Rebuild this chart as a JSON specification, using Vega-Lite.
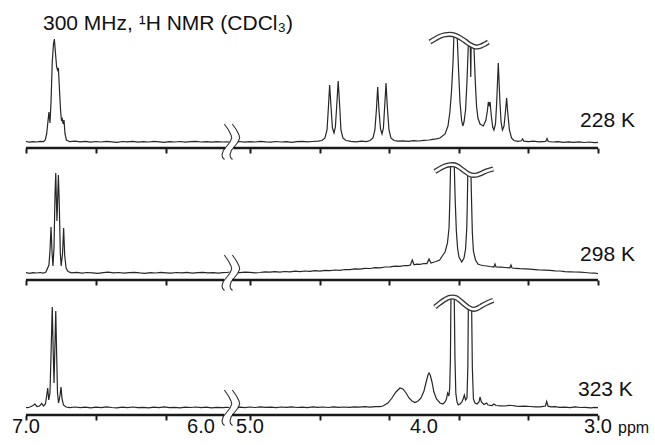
{
"$schema": "https://vega.github.io/schema/vega-lite/v6.json",
"padding": {"left": 12, "top": 5, "right": 0, "bottom": 0},
"background": "white",
"spacing": 10,
"bounds": "flush",
"config": {"view": {"stroke": null}, "axis": {"grid": false, "domain": false, "labels": false, "tickSize": 5, "tickWidth": 2, "tickColor": "#1a1a1a"}},
"datasets": {
"spec": [
{"p":"a","s":"L","x":7,"y":0.5},{"p":"a","s":"L","x":6.98,"y":-0.2},{"p":"a","s":"L","x":6.96,"y":0.4},{"p":"a","s":"L","x":6.94,"y":0},{"p":"a","s":"L","x":6.92,"y":0.7},{"p":"a","s":"L","x":6.9,"y":0.3},{"p":"a","s":"L","x":6.89,"y":2},{"p":"a","s":"L","x":6.882,"y":8},{"p":"a","s":"L","x":6.869,"y":30},{"p":"a","s":"L","x":6.863,"y":19},{"p":"a","s":"L","x":6.857,"y":40},{"p":"a","s":"L","x":6.85,"y":80},{"p":"a","s":"L","x":6.843,"y":98},{"p":"a","s":"L","x":6.838,"y":103},{"p":"a","s":"L","x":6.833,"y":92},{"p":"a","s":"L","x":6.825,"y":75},{"p":"a","s":"L","x":6.82,"y":72},{"p":"a","s":"L","x":6.815,"y":74},{"p":"a","s":"L","x":6.808,"y":50},{"p":"a","s":"L","x":6.802,"y":30},{"p":"a","s":"L","x":6.797,"y":21},{"p":"a","s":"L","x":6.793,"y":23},{"p":"a","s":"L","x":6.788,"y":18},{"p":"a","s":"L","x":6.783,"y":22},{"p":"a","s":"L","x":6.777,"y":8},{"p":"a","s":"L","x":6.769,"y":2},{"p":"a","s":"L","x":6.75,"y":0.3},{"p":"a","s":"L","x":6.72,"y":0.8},{"p":"a","s":"L","x":6.69,"y":0.1},{"p":"a","s":"L","x":6.66,"y":0.6},{"p":"a","s":"L","x":6.63,"y":-0.2},{"p":"a","s":"L","x":6.6,"y":0.5},{"p":"a","s":"L","x":6.57,"y":0},{"p":"a","s":"L","x":6.54,"y":0.7},{"p":"a","s":"L","x":6.51,"y":0.2},{"p":"a","s":"L","x":6.48,"y":-0.3},{"p":"a","s":"L","x":6.45,"y":0.5},{"p":"a","s":"L","x":6.42,"y":0.1},{"p":"a","s":"L","x":6.39,"y":0.6},{"p":"a","s":"L","x":6.36,"y":-0.1},{"p":"a","s":"L","x":6.33,"y":0.4},{"p":"a","s":"L","x":6.3,"y":0},{"p":"a","s":"L","x":6.27,"y":0.6},{"p":"a","s":"L","x":6.24,"y":0.2},{"p":"a","s":"L","x":6.21,"y":-0.3},{"p":"a","s":"L","x":6.18,"y":0.4},{"p":"a","s":"L","x":6.15,"y":0},{"p":"a","s":"L","x":6.12,"y":0.5},{"p":"a","s":"L","x":6.09,"y":-0.2},{"p":"a","s":"L","x":6.06,"y":0.3},{"p":"a","s":"L","x":6.03,"y":0.6},{"p":"a","s":"L","x":6,"y":0},{"p":"a","s":"L","x":5.97,"y":0.4},{"p":"a","s":"L","x":5.94,"y":-0.2},{"p":"a","s":"L","x":5.91,"y":0.3},{"p":"a","s":"L","x":5.875,"y":0},{"p":"a","s":"L","x":5.7,"y":0.2},{"p":"a","s":"L","x":5.55,"y":0},
{"p":"a","s":"R","x":5.15,"y":0.2},{"p":"a","s":"R","x":5.06,"y":0.5},{"p":"a","s":"R","x":5.03,"y":-0.1},{"p":"a","s":"R","x":5,"y":0.4},{"p":"a","s":"R","x":4.97,"y":0},{"p":"a","s":"R","x":4.94,"y":0.6},{"p":"a","s":"R","x":4.91,"y":0.1},{"p":"a","s":"R","x":4.88,"y":-0.2},{"p":"a","s":"R","x":4.85,"y":0.5},{"p":"a","s":"R","x":4.82,"y":0},{"p":"a","s":"R","x":4.79,"y":0.4},{"p":"a","s":"R","x":4.76,"y":-0.3},{"p":"a","s":"R","x":4.73,"y":0.3},{"p":"a","s":"R","x":4.7,"y":0.7},{"p":"a","s":"R","x":4.67,"y":0.1},{"p":"a","s":"R","x":4.64,"y":0.5},{"p":"a","s":"R","x":4.61,"y":0.9},{"p":"a","s":"R","x":4.586,"y":1.5},{"p":"a","s":"R","x":4.569,"y":4},{"p":"a","s":"R","x":4.557,"y":12},{"p":"a","s":"R","x":4.549,"y":35},{"p":"a","s":"R","x":4.542,"y":57},{"p":"a","s":"R","x":4.534,"y":35},{"p":"a","s":"R","x":4.526,"y":14},{"p":"a","s":"R","x":4.517,"y":9},{"p":"a","s":"R","x":4.509,"y":15},{"p":"a","s":"R","x":4.5,"y":40},{"p":"a","s":"R","x":4.493,"y":61},{"p":"a","s":"R","x":4.485,"y":38},{"p":"a","s":"R","x":4.477,"y":12},{"p":"a","s":"R","x":4.466,"y":4},{"p":"a","s":"R","x":4.448,"y":1.5},{"p":"a","s":"R","x":4.42,"y":0.6},{"p":"a","s":"R","x":4.39,"y":0.2},{"p":"a","s":"R","x":4.36,"y":0.9},{"p":"a","s":"R","x":4.33,"y":0.4},{"p":"a","s":"R","x":4.31,"y":1.5},{"p":"a","s":"R","x":4.293,"y":4},{"p":"a","s":"R","x":4.282,"y":12},{"p":"a","s":"R","x":4.273,"y":33},{"p":"a","s":"R","x":4.266,"y":55},{"p":"a","s":"R","x":4.259,"y":33},{"p":"a","s":"R","x":4.25,"y":13},{"p":"a","s":"R","x":4.241,"y":8},{"p":"a","s":"R","x":4.233,"y":14},{"p":"a","s":"R","x":4.225,"y":38},{"p":"a","s":"R","x":4.218,"y":59},{"p":"a","s":"R","x":4.211,"y":36},{"p":"a","s":"R","x":4.201,"y":12},{"p":"a","s":"R","x":4.19,"y":4},{"p":"a","s":"R","x":4.172,"y":1.5},{"p":"a","s":"R","x":4.15,"y":0.8},{"p":"a","s":"R","x":4.12,"y":1.2},{"p":"a","s":"R","x":4.09,"y":0.7},{"p":"a","s":"R","x":4.06,"y":1.3},{"p":"a","s":"R","x":4.03,"y":1},{"p":"a","s":"R","x":4,"y":1.6},{"p":"a","s":"R","x":3.97,"y":2},{"p":"a","s":"R","x":3.95,"y":2.6},{"p":"a","s":"R","x":3.93,"y":3.2},{"p":"a","s":"R","x":3.908,"y":4},{"p":"a","s":"R","x":3.879,"y":8},{"p":"a","s":"R","x":3.862,"y":16},{"p":"a","s":"R","x":3.851,"y":30},{"p":"a","s":"R","x":3.842,"y":50},{"p":"a","s":"R","x":3.833,"y":80},{"p":"a","s":"R","x":3.828,"y":106},{"p":"a","s":"R","x":3.809,"y":106},{"p":"a","s":"R","x":3.802,"y":75},{"p":"a","s":"R","x":3.793,"y":40},{"p":"a","s":"R","x":3.784,"y":22},{"p":"a","s":"R","x":3.777,"y":16},{"p":"a","s":"R","x":3.77,"y":20},{"p":"a","s":"R","x":3.761,"y":32},{"p":"a","s":"R","x":3.753,"y":60},{"p":"a","s":"R","x":3.745,"y":98},{"p":"a","s":"R","x":3.734,"y":97},{"p":"a","s":"R","x":3.731,"y":65},{"p":"a","s":"R","x":3.729,"y":96},{"p":"a","s":"R","x":3.713,"y":95.5},{"p":"a","s":"R","x":3.705,"y":60},{"p":"a","s":"R","x":3.698,"y":36},{"p":"a","s":"R","x":3.69,"y":24},{"p":"a","s":"R","x":3.678,"y":18},{"p":"a","s":"R","x":3.659,"y":16},{"p":"a","s":"R","x":3.644,"y":22},{"p":"a","s":"R","x":3.635,"y":32},{"p":"a","s":"R","x":3.63,"y":40},{"p":"a","s":"R","x":3.625,"y":37},{"p":"a","s":"R","x":3.62,"y":40},{"p":"a","s":"R","x":3.613,"y":26},{"p":"a","s":"R","x":3.605,"y":15},{"p":"a","s":"R","x":3.598,"y":12},{"p":"a","s":"R","x":3.589,"y":18},{"p":"a","s":"R","x":3.582,"y":40},{"p":"a","s":"R","x":3.573,"y":79},{"p":"a","s":"R","x":3.564,"y":42},{"p":"a","s":"R","x":3.557,"y":20},{"p":"a","s":"R","x":3.549,"y":12},{"p":"a","s":"R","x":3.54,"y":16},{"p":"a","s":"R","x":3.532,"y":30},{"p":"a","s":"R","x":3.525,"y":44},{"p":"a","s":"R","x":3.518,"y":28},{"p":"a","s":"R","x":3.509,"y":12},{"p":"a","s":"R","x":3.497,"y":4},{"p":"a","s":"R","x":3.483,"y":1.5},{"p":"a","s":"R","x":3.46,"y":0.6},{"p":"a","s":"R","x":3.44,"y":1.2},{"p":"a","s":"R","x":3.433,"y":3},{"p":"a","s":"R","x":3.426,"y":0.8},{"p":"a","s":"R","x":3.4,"y":0.3},{"p":"a","s":"R","x":3.37,"y":0.8},{"p":"a","s":"R","x":3.34,"y":0.2},{"p":"a","s":"R","x":3.3,"y":0.6},{"p":"a","s":"R","x":3.293,"y":3.5},{"p":"a","s":"R","x":3.286,"y":0.5},{"p":"a","s":"R","x":3.26,"y":0},{"p":"a","s":"R","x":3.23,"y":0.4},{"p":"a","s":"R","x":3.2,"y":-0.3},{"p":"a","s":"R","x":3.17,"y":0.2},{"p":"a","s":"R","x":3.14,"y":-0.4},{"p":"a","s":"R","x":3.11,"y":0.1},{"p":"a","s":"R","x":3.08,"y":-0.5},{"p":"a","s":"R","x":3.05,"y":0},{"p":"a","s":"R","x":3.02,"y":-0.6},{"p":"a","s":"R","x":3,"y":-0.3},
{"p":"b","s":"L","x":7,"y":0.3},{"p":"b","s":"L","x":6.98,"y":-0.3},{"p":"b","s":"L","x":6.96,"y":0.4},{"p":"b","s":"L","x":6.94,"y":0},{"p":"b","s":"L","x":6.92,"y":0.5},{"p":"b","s":"L","x":6.9,"y":-0.2},{"p":"b","s":"L","x":6.886,"y":1},{"p":"b","s":"L","x":6.869,"y":8},{"p":"b","s":"L","x":6.863,"y":22},{"p":"b","s":"L","x":6.857,"y":46},{"p":"b","s":"L","x":6.851,"y":20},{"p":"b","s":"L","x":6.846,"y":7},{"p":"b","s":"L","x":6.84,"y":25},{"p":"b","s":"L","x":6.834,"y":80},{"p":"b","s":"L","x":6.83,"y":100},{"p":"b","s":"L","x":6.826,"y":70},{"p":"b","s":"L","x":6.823,"y":52},{"p":"b","s":"L","x":6.819,"y":75},{"p":"b","s":"L","x":6.815,"y":98},{"p":"b","s":"L","x":6.81,"y":70},{"p":"b","s":"L","x":6.804,"y":20},{"p":"b","s":"L","x":6.799,"y":7},{"p":"b","s":"L","x":6.791,"y":20},{"p":"b","s":"L","x":6.785,"y":45},{"p":"b","s":"L","x":6.779,"y":18},{"p":"b","s":"L","x":6.771,"y":5},{"p":"b","s":"L","x":6.76,"y":1.5},{"p":"b","s":"L","x":6.74,"y":0.2},{"p":"b","s":"L","x":6.71,"y":0.6},{"p":"b","s":"L","x":6.68,"y":-0.1},{"p":"b","s":"L","x":6.65,"y":0.5},{"p":"b","s":"L","x":6.62,"y":0.1},{"p":"b","s":"L","x":6.59,"y":-0.3},{"p":"b","s":"L","x":6.56,"y":0.4},{"p":"b","s":"L","x":6.53,"y":0.8},{"p":"b","s":"L","x":6.5,"y":0.2},{"p":"b","s":"L","x":6.47,"y":0.5},{"p":"b","s":"L","x":6.44,"y":-0.2},{"p":"b","s":"L","x":6.41,"y":0.3},{"p":"b","s":"L","x":6.38,"y":0.7},{"p":"b","s":"L","x":6.35,"y":0.1},{"p":"b","s":"L","x":6.32,"y":-0.3},{"p":"b","s":"L","x":6.29,"y":0.4},{"p":"b","s":"L","x":6.26,"y":0},{"p":"b","s":"L","x":6.23,"y":0.6},{"p":"b","s":"L","x":6.2,"y":0.2},{"p":"b","s":"L","x":6.17,"y":-0.2},{"p":"b","s":"L","x":6.14,"y":0.5},{"p":"b","s":"L","x":6.11,"y":0.1},{"p":"b","s":"L","x":6.08,"y":0.6},{"p":"b","s":"L","x":6.05,"y":-0.1},{"p":"b","s":"L","x":6.02,"y":0.3},{"p":"b","s":"L","x":5.99,"y":0.7},{"p":"b","s":"L","x":5.96,"y":0.1},{"p":"b","s":"L","x":5.93,"y":0.4},{"p":"b","s":"L","x":5.9,"y":-0.1},{"p":"b","s":"L","x":5.875,"y":0.3},{"p":"b","s":"L","x":5.7,"y":0.5},{"p":"b","s":"L","x":5.55,"y":0.8},
{"p":"b","s":"R","x":5.15,"y":0.3},{"p":"b","s":"R","x":5.057,"y":0.3},{"p":"b","s":"R","x":5.03,"y":0.8},{"p":"b","s":"R","x":5,"y":0.6},{"p":"b","s":"R","x":4.97,"y":0.1},{"p":"b","s":"R","x":4.943,"y":0.5},{"p":"b","s":"R","x":4.915,"y":1.1},{"p":"b","s":"R","x":4.885,"y":0.8},{"p":"b","s":"R","x":4.857,"y":1.3},{"p":"b","s":"R","x":4.828,"y":0.8},{"p":"b","s":"R","x":4.8,"y":1.5},{"p":"b","s":"R","x":4.77,"y":1.2},{"p":"b","s":"R","x":4.74,"y":1.9},{"p":"b","s":"R","x":4.713,"y":1.3},{"p":"b","s":"R","x":4.685,"y":2},{"p":"b","s":"R","x":4.655,"y":1.7},{"p":"b","s":"R","x":4.627,"y":2.3},{"p":"b","s":"R","x":4.598,"y":1.9},{"p":"b","s":"R","x":4.57,"y":2.7},{"p":"b","s":"R","x":4.54,"y":2.4},{"p":"b","s":"R","x":4.51,"y":3},{"p":"b","s":"R","x":4.483,"y":2.7},{"p":"b","s":"R","x":4.455,"y":3.5},{"p":"b","s":"R","x":4.425,"y":3.4},{"p":"b","s":"R","x":4.397,"y":4.1},{"p":"b","s":"R","x":4.368,"y":3.8},{"p":"b","s":"R","x":4.34,"y":4.6},{"p":"b","s":"R","x":4.31,"y":4.5},{"p":"b","s":"R","x":4.28,"y":5.3},{"p":"b","s":"R","x":4.253,"y":5.1},{"p":"b","s":"R","x":4.225,"y":6},{"p":"b","s":"R","x":4.195,"y":6.1},{"p":"b","s":"R","x":4.165,"y":6.8},{"p":"b","s":"R","x":4.138,"y":6.7},{"p":"b","s":"R","x":4.11,"y":7.5},{"p":"b","s":"R","x":4.092,"y":7.3},{"p":"b","s":"R","x":4.078,"y":8},{"p":"b","s":"R","x":4.067,"y":13},{"p":"b","s":"R","x":4.057,"y":8.2},{"p":"b","s":"R","x":4.04,"y":8.9},{"p":"b","s":"R","x":4.023,"y":8.7},{"p":"b","s":"R","x":4,"y":9.5},{"p":"b","s":"R","x":3.983,"y":9.4},{"p":"b","s":"R","x":3.971,"y":14},{"p":"b","s":"R","x":3.96,"y":10},{"p":"b","s":"R","x":3.945,"y":10.8},{"p":"b","s":"R","x":3.931,"y":11.5},{"p":"b","s":"R","x":3.91,"y":13},{"p":"b","s":"R","x":3.891,"y":18},{"p":"b","s":"R","x":3.879,"y":21},{"p":"b","s":"R","x":3.865,"y":30},{"p":"b","s":"R","x":3.856,"y":45},{"p":"b","s":"R","x":3.851,"y":75},{"p":"b","s":"R","x":3.847,"y":108},{"p":"b","s":"R","x":3.826,"y":108},{"p":"b","s":"R","x":3.821,"y":75},{"p":"b","s":"R","x":3.814,"y":42},{"p":"b","s":"R","x":3.807,"y":25},{"p":"b","s":"R","x":3.799,"y":16},{"p":"b","s":"R","x":3.783,"y":11},{"p":"b","s":"R","x":3.77,"y":15},{"p":"b","s":"R","x":3.761,"y":24},{"p":"b","s":"R","x":3.754,"y":45},{"p":"b","s":"R","x":3.751,"y":70},{"p":"b","s":"R","x":3.748,"y":99.5},{"p":"b","s":"R","x":3.73,"y":98.2},{"p":"b","s":"R","x":3.726,"y":68},{"p":"b","s":"R","x":3.722,"y":40},{"p":"b","s":"R","x":3.716,"y":22},{"p":"b","s":"R","x":3.704,"y":13},{"p":"b","s":"R","x":3.69,"y":9},{"p":"b","s":"R","x":3.675,"y":8},{"p":"b","s":"R","x":3.661,"y":7.5},{"p":"b","s":"R","x":3.64,"y":7},{"p":"b","s":"R","x":3.621,"y":6.5},{"p":"b","s":"R","x":3.604,"y":6.2},{"p":"b","s":"R","x":3.598,"y":6},{"p":"b","s":"R","x":3.592,"y":9},{"p":"b","s":"R","x":3.586,"y":6},{"p":"b","s":"R","x":3.56,"y":5.8},{"p":"b","s":"R","x":3.534,"y":5.5},{"p":"b","s":"R","x":3.506,"y":5.2},{"p":"b","s":"R","x":3.5,"y":8},{"p":"b","s":"R","x":3.494,"y":5},{"p":"b","s":"R","x":3.47,"y":4.7},{"p":"b","s":"R","x":3.448,"y":4.3},{"p":"b","s":"R","x":3.42,"y":4.1},{"p":"b","s":"R","x":3.391,"y":3.8},{"p":"b","s":"R","x":3.36,"y":3.4},{"p":"b","s":"R","x":3.333,"y":3},{"p":"b","s":"R","x":3.305,"y":2.9},{"p":"b","s":"R","x":3.276,"y":2.6},{"p":"b","s":"R","x":3.247,"y":2.2},{"p":"b","s":"R","x":3.218,"y":2},{"p":"b","s":"R","x":3.19,"y":1.4},{"p":"b","s":"R","x":3.161,"y":1.2},{"p":"b","s":"R","x":3.132,"y":1},{"p":"b","s":"R","x":3.103,"y":0.8},{"p":"b","s":"R","x":3.075,"y":0.5},{"p":"b","s":"R","x":3.046,"y":0},{"p":"b","s":"R","x":3.02,"y":-0.2},{"p":"b","s":"R","x":3,"y":-0.5},
{"p":"c","s":"L","x":7,"y":0.5},{"p":"c","s":"L","x":6.99,"y":0.3},{"p":"c","s":"L","x":6.977,"y":1},{"p":"c","s":"L","x":6.96,"y":2.5},{"p":"c","s":"L","x":6.949,"y":4},{"p":"c","s":"L","x":6.937,"y":1.5},{"p":"c","s":"L","x":6.923,"y":2},{"p":"c","s":"L","x":6.91,"y":4.5},{"p":"c","s":"L","x":6.9,"y":2},{"p":"c","s":"L","x":6.889,"y":4},{"p":"c","s":"L","x":6.882,"y":12},{"p":"c","s":"L","x":6.876,"y":20},{"p":"c","s":"L","x":6.87,"y":8},{"p":"c","s":"L","x":6.863,"y":15},{"p":"c","s":"L","x":6.856,"y":60},{"p":"c","s":"L","x":6.85,"y":101},{"p":"c","s":"L","x":6.845,"y":60},{"p":"c","s":"L","x":6.84,"y":25},{"p":"c","s":"L","x":6.835,"y":60},{"p":"c","s":"L","x":6.83,"y":97},{"p":"c","s":"L","x":6.825,"y":55},{"p":"c","s":"L","x":6.82,"y":15},{"p":"c","s":"L","x":6.814,"y":5},{"p":"c","s":"L","x":6.806,"y":12},{"p":"c","s":"L","x":6.8,"y":21},{"p":"c","s":"L","x":6.794,"y":9},{"p":"c","s":"L","x":6.786,"y":3},{"p":"c","s":"L","x":6.771,"y":1},{"p":"c","s":"L","x":6.75,"y":0.4},{"p":"c","s":"L","x":6.72,"y":1},{"p":"c","s":"L","x":6.69,"y":0.3},{"p":"c","s":"L","x":6.66,"y":0.9},{"p":"c","s":"L","x":6.63,"y":0.2},{"p":"c","s":"L","x":6.6,"y":0.8},{"p":"c","s":"L","x":6.57,"y":0.4},{"p":"c","s":"L","x":6.54,"y":1.1},{"p":"c","s":"L","x":6.51,"y":0.5},{"p":"c","s":"L","x":6.48,"y":0.1},{"p":"c","s":"L","x":6.45,"y":0.8},{"p":"c","s":"L","x":6.42,"y":0.3},{"p":"c","s":"L","x":6.39,"y":1},{"p":"c","s":"L","x":6.36,"y":0.4},{"p":"c","s":"L","x":6.33,"y":0.7},{"p":"c","s":"L","x":6.3,"y":0.1},{"p":"c","s":"L","x":6.27,"y":0.9},{"p":"c","s":"L","x":6.24,"y":0.4},{"p":"c","s":"L","x":6.21,"y":1.1},{"p":"c","s":"L","x":6.18,"y":0.3},{"p":"c","s":"L","x":6.15,"y":0.7},{"p":"c","s":"L","x":6.12,"y":0.2},{"p":"c","s":"L","x":6.09,"y":0.9},{"p":"c","s":"L","x":6.06,"y":0.5},{"p":"c","s":"L","x":6.03,"y":1},{"p":"c","s":"L","x":6,"y":0.4},{"p":"c","s":"L","x":5.97,"y":0.8},{"p":"c","s":"L","x":5.94,"y":0.2},{"p":"c","s":"L","x":5.91,"y":0.7},{"p":"c","s":"L","x":5.875,"y":0.4},{"p":"c","s":"L","x":5.7,"y":0.6},{"p":"c","s":"L","x":5.55,"y":0.5},
{"p":"c","s":"R","x":5.15,"y":0.6},{"p":"c","s":"R","x":5.057,"y":0.8},{"p":"c","s":"R","x":5.03,"y":0.4},{"p":"c","s":"R","x":5,"y":1},{"p":"c","s":"R","x":4.97,"y":0.5},{"p":"c","s":"R","x":4.94,"y":1.2},{"p":"c","s":"R","x":4.91,"y":0.6},{"p":"c","s":"R","x":4.88,"y":0.9},{"p":"c","s":"R","x":4.85,"y":0.3},{"p":"c","s":"R","x":4.82,"y":1},{"p":"c","s":"R","x":4.79,"y":0.6},{"p":"c","s":"R","x":4.76,"y":1.2},{"p":"c","s":"R","x":4.73,"y":0.5},{"p":"c","s":"R","x":4.7,"y":0.9},{"p":"c","s":"R","x":4.67,"y":0.4},{"p":"c","s":"R","x":4.64,"y":1.1},{"p":"c","s":"R","x":4.61,"y":0.6},{"p":"c","s":"R","x":4.58,"y":1},{"p":"c","s":"R","x":4.55,"y":0.5},{"p":"c","s":"R","x":4.52,"y":1.2},{"p":"c","s":"R","x":4.49,"y":0.7},{"p":"c","s":"R","x":4.46,"y":1},{"p":"c","s":"R","x":4.43,"y":0.6},{"p":"c","s":"R","x":4.4,"y":1.2},{"p":"c","s":"R","x":4.37,"y":0.8},{"p":"c","s":"R","x":4.34,"y":1.3},{"p":"c","s":"R","x":4.31,"y":0.9},{"p":"c","s":"R","x":4.28,"y":1.4},{"p":"c","s":"R","x":4.253,"y":1.3},{"p":"c","s":"R","x":4.236,"y":2},{"p":"c","s":"R","x":4.207,"y":5},{"p":"c","s":"R","x":4.184,"y":10},{"p":"c","s":"R","x":4.161,"y":16},{"p":"c","s":"R","x":4.138,"y":20},{"p":"c","s":"R","x":4.121,"y":19},{"p":"c","s":"R","x":4.103,"y":15},{"p":"c","s":"R","x":4.086,"y":10},{"p":"c","s":"R","x":4.069,"y":7},{"p":"c","s":"R","x":4.052,"y":5.5},{"p":"c","s":"R","x":4.034,"y":7},{"p":"c","s":"R","x":4.017,"y":10},{"p":"c","s":"R","x":4,"y":17},{"p":"c","s":"R","x":3.986,"y":27},{"p":"c","s":"R","x":3.977,"y":33},{"p":"c","s":"R","x":3.971,"y":35},{"p":"c","s":"R","x":3.964,"y":33},{"p":"c","s":"R","x":3.954,"y":26},{"p":"c","s":"R","x":3.943,"y":16},{"p":"c","s":"R","x":3.928,"y":9},{"p":"c","s":"R","x":3.908,"y":5},{"p":"c","s":"R","x":3.891,"y":4},{"p":"c","s":"R","x":3.879,"y":6},{"p":"c","s":"R","x":3.871,"y":9},{"p":"c","s":"R","x":3.864,"y":15},{"p":"c","s":"R","x":3.857,"y":12},{"p":"c","s":"R","x":3.852,"y":20},{"p":"c","s":"R","x":3.848,"y":50},{"p":"c","s":"R","x":3.845,"y":110.5},{"p":"c","s":"R","x":3.826,"y":110.5},{"p":"c","s":"R","x":3.822,"y":50},{"p":"c","s":"R","x":3.817,"y":15},{"p":"c","s":"R","x":3.81,"y":6},{"p":"c","s":"R","x":3.803,"y":3},{"p":"c","s":"R","x":3.793,"y":4},{"p":"c","s":"R","x":3.782,"y":6},{"p":"c","s":"R","x":3.773,"y":10},{"p":"c","s":"R","x":3.768,"y":13},{"p":"c","s":"R","x":3.761,"y":8},{"p":"c","s":"R","x":3.753,"y":10},{"p":"c","s":"R","x":3.748,"y":40},{"p":"c","s":"R","x":3.745,"y":100.3},{"p":"c","s":"R","x":3.726,"y":99},{"p":"c","s":"R","x":3.722,"y":40},{"p":"c","s":"R","x":3.716,"y":9},{"p":"c","s":"R","x":3.707,"y":5},{"p":"c","s":"R","x":3.695,"y":4},{"p":"c","s":"R","x":3.684,"y":6},{"p":"c","s":"R","x":3.678,"y":11},{"p":"c","s":"R","x":3.67,"y":6},{"p":"c","s":"R","x":3.655,"y":3.5},{"p":"c","s":"R","x":3.64,"y":5},{"p":"c","s":"R","x":3.632,"y":3},{"p":"c","s":"R","x":3.609,"y":2.5},{"p":"c","s":"R","x":3.598,"y":4},{"p":"c","s":"R","x":3.586,"y":2.5},{"p":"c","s":"R","x":3.56,"y":2.2},{"p":"c","s":"R","x":3.534,"y":2},{"p":"c","s":"R","x":3.51,"y":2.6},{"p":"c","s":"R","x":3.494,"y":2.5},{"p":"c","s":"R","x":3.47,"y":1.8},{"p":"c","s":"R","x":3.448,"y":1.6},{"p":"c","s":"R","x":3.42,"y":1.9},{"p":"c","s":"R","x":3.391,"y":1.5},{"p":"c","s":"R","x":3.36,"y":1.1},{"p":"c","s":"R","x":3.333,"y":1.2},{"p":"c","s":"R","x":3.302,"y":2},{"p":"c","s":"R","x":3.295,"y":6.5},{"p":"c","s":"R","x":3.287,"y":1.8},{"p":"c","s":"R","x":3.27,"y":1.1},{"p":"c","s":"R","x":3.247,"y":1.3},{"p":"c","s":"R","x":3.22,"y":0.7},{"p":"c","s":"R","x":3.19,"y":0.8},{"p":"c","s":"R","x":3.16,"y":0.4},{"p":"c","s":"R","x":3.132,"y":1.1},{"p":"c","s":"R","x":3.1,"y":0.5},{"p":"c","s":"R","x":3.075,"y":0.6},{"p":"c","s":"R","x":3.04,"y":0.2},{"p":"c","s":"R","x":3.02,"y":0.6},{"p":"c","s":"R","x":3,"y":0.4}
],
"brk": [
{"c":"1","i":1,"x":5.806,"y":18},{"c":"1","i":2,"x":5.6,"y":12},{"c":"1","i":3,"x":5.477,"y":7},{"c":"1","i":4,"x":5.443,"y":4},{"c":"1","i":5,"x":5.526,"y":0},{"c":"1","i":6,"x":5.698,"y":-4.5},{"c":"1","i":7,"x":5.855,"y":-8.5},{"c":"1","i":8,"x":5.88,"y":-12.5},{"c":"1","i":9,"x":5.877,"y":-15.5},{"c":"1","i":10,"x":5.796,"y":-17.5},
{"c":"2","i":1,"x":5.413,"y":18},{"c":"2","i":2,"x":5.207,"y":12},{"c":"2","i":3,"x":5.084,"y":7},{"c":"2","i":4,"x":5.059,"y":4},{"c":"2","i":5,"x":5.134,"y":0},{"c":"2","i":6,"x":5.305,"y":-4.5},{"c":"2","i":7,"x":5.463,"y":-8.5},{"c":"2","i":8,"x":5.526,"y":-12.5},{"c":"2","i":9,"x":5.502,"y":-15.5},{"c":"2","i":10,"x":5.404,"y":-17.5}
],
"axl": [
{"p":"a","x":7,"x2":5.757},{"p":"a","x":5.364,"x2":3},
{"p":"b","x":7,"x2":5.816},{"p":"b","x":5.423,"x2":3},
{"p":"c","x":7,"x2":5.816},{"p":"c","x":5.423,"x2":3}
],
"wave": [
{"p":"a","x":3.966,"y":100},{"p":"a","x":3.937,"y":103},{"p":"a","x":3.908,"y":105.7},{"p":"a","x":3.879,"y":107.3},{"p":"a","x":3.851,"y":107.7},{"p":"a","x":3.822,"y":106.8},{"p":"a","x":3.793,"y":104.3},{"p":"a","x":3.764,"y":101},{"p":"a","x":3.736,"y":97.5},{"p":"a","x":3.713,"y":95.6},{"p":"a","x":3.695,"y":95},{"p":"a","x":3.672,"y":96},{"p":"a","x":3.649,"y":98},{"p":"a","x":3.63,"y":100},
{"p":"b","x":3.937,"y":101.5},{"p":"b","x":3.908,"y":104.5},{"p":"b","x":3.879,"y":107},{"p":"b","x":3.851,"y":108.2},{"p":"b","x":3.832,"y":108.3},{"p":"b","x":3.81,"y":107.2},{"p":"b","x":3.787,"y":104.5},{"p":"b","x":3.764,"y":101.5},{"p":"b","x":3.741,"y":98.8},{"p":"b","x":3.716,"y":97.7},{"p":"b","x":3.695,"y":98},{"p":"b","x":3.672,"y":99.5},{"p":"b","x":3.644,"y":101.8},{"p":"b","x":3.602,"y":104},
{"p":"c","x":3.937,"y":101},{"p":"c","x":3.908,"y":105},{"p":"c","x":3.879,"y":108.5},{"p":"c","x":3.856,"y":110.5},{"p":"c","x":3.835,"y":111},{"p":"c","x":3.816,"y":110.3},{"p":"c","x":3.793,"y":107.5},{"p":"c","x":3.77,"y":104},{"p":"c","x":3.747,"y":100.8},{"p":"c","x":3.716,"y":98.7},{"p":"c","x":3.695,"y":99.5},{"p":"c","x":3.672,"y":101.8},{"p":"c","x":3.644,"y":104.5},{"p":"c","x":3.602,"y":107.7}
],
"lab": [
{"p":"a","x":3.103,"y":15,"t":"228 K"},
{"p":"b","x":3.103,"y":12,"t":"298 K"},
{"p":"c","x":3.115,"y":12,"t":"323 K"}
],
"ttl": [{"x":6.903,"y":112,"t":"300 MHz, ¹H NMR (CDCl₃)"}],
"ticklab": [{"x":7,"t":"7.0"},{"x":6,"t":"6.0"},{"x":5,"t":"5.0"},{"x":4,"t":"4.0"},{"x":3,"t":"3.0"}],
"unit": [{"x":2.885,"y":-25,"t":"ppm"}]
},
"vconcat": [
{
"width": 572, "height": 143,
"layer": [
{"data": {"name": "spec"}, "transform": [{"filter": "datum.p == 'a'"}], "mark": {"type": "line", "stroke": "#262626", "strokeWidth": 1.2},
 "encoding": {"x": {"field": "x", "type": "quantitative", "scale": {"domain": [7, 5.875, 5.06, 3], "range": [0, 196.9, 213.5, 572], "nice": false, "zero": false}, "axis": {"title": null, "values": [7, 6.8, 6.6, 6.4, 6.2, 6, 5, 4.8, 4.6, 4.4, 4.2, 4, 3.8, 3.6, 3.4, 3.2, 3], "labels": false}},
  "y": {"field": "y", "type": "quantitative", "scale": {"domain": [-6, 137], "nice": false, "zero": false}, "axis": null}, "detail": {"field": "s"}}},
{"data": {"name": "brk"}, "mark": {"type": "line", "stroke": "#333", "strokeWidth": 1.1},
 "encoding": {"x": {"field": "x", "type": "quantitative"}, "y": {"field": "y", "type": "quantitative", "axis": null}, "detail": {"field": "c"}, "order": {"field": "i", "type": "quantitative"}}},
{"data": {"name": "axl"}, "transform": [{"filter": "datum.p == 'a'"}], "mark": {"type": "rule", "stroke": "#1a1a1a", "strokeWidth": 2.4},
 "encoding": {"x": {"field": "x", "type": "quantitative"}, "x2": {"field": "x2"}, "y": {"datum": -6, "type": "quantitative", "axis": null}}},
{"data": {"name": "wave"}, "transform": [{"filter": "datum.p == 'a'"}], "mark": {"type": "line", "stroke": "#333", "strokeWidth": 5.2, "strokeCap": "butt", "interpolate": "monotone"},
 "encoding": {"x": {"field": "x", "type": "quantitative"}, "y": {"field": "y", "type": "quantitative", "axis": null}}},
{"data": {"name": "wave"}, "transform": [{"filter": "datum.p == 'a'"}], "mark": {"type": "line", "stroke": "white", "strokeWidth": 2.6, "strokeCap": "butt", "interpolate": "monotone"},
 "encoding": {"x": {"field": "x", "type": "quantitative"}, "y": {"field": "y", "type": "quantitative", "axis": null}}},
{"data": {"name": "lab"}, "transform": [{"filter": "datum.p == 'a'"}], "mark": {"type": "text", "align": "left", "baseline": "alphabetic", "font": "Liberation Sans", "fontSize": 21, "color": "#111"},
 "encoding": {"x": {"field": "x", "type": "quantitative"}, "y": {"field": "y", "type": "quantitative", "axis": null}, "text": {"field": "t"}}},
{"data": {"name": "ttl"}, "mark": {"type": "text", "align": "left", "baseline": "alphabetic", "font": "Liberation Sans", "fontSize": 21, "color": "#111"},
 "encoding": {"x": {"field": "x", "type": "quantitative"}, "y": {"field": "y", "type": "quantitative", "axis": null}, "text": {"field": "t"}}}
]
},
{
"width": 572, "height": 122,
"layer": [
{"data": {"name": "spec"}, "transform": [{"filter": "datum.p == 'b'"}], "mark": {"type": "line", "stroke": "#262626", "strokeWidth": 1.2},
 "encoding": {"x": {"field": "x", "type": "quantitative", "scale": {"domain": [7, 5.875, 5.06, 3], "range": [0, 196.9, 213.5, 572], "nice": false, "zero": false}, "axis": {"title": null, "values": [7, 6.8, 6.6, 6.4, 6.2, 6, 5, 4.8, 4.6, 4.4, 4.2, 4, 3.8, 3.6, 3.4, 3.2, 3], "labels": false}},
  "y": {"field": "y", "type": "quantitative", "scale": {"domain": [-7, 115], "nice": false, "zero": false}, "axis": null}, "detail": {"field": "s"}}},
{"data": {"name": "brk"}, "mark": {"type": "line", "stroke": "#333", "strokeWidth": 1.1},
 "encoding": {"x": {"field": "x", "type": "quantitative"}, "y": {"field": "y", "type": "quantitative", "axis": null}, "detail": {"field": "c"}, "order": {"field": "i", "type": "quantitative"}}},
{"data": {"name": "axl"}, "transform": [{"filter": "datum.p == 'b'"}], "mark": {"type": "rule", "stroke": "#1a1a1a", "strokeWidth": 2.4},
 "encoding": {"x": {"field": "x", "type": "quantitative"}, "x2": {"field": "x2"}, "y": {"datum": -7, "type": "quantitative", "axis": null}}},
{"data": {"name": "wave"}, "transform": [{"filter": "datum.p == 'b'"}], "mark": {"type": "line", "stroke": "#333", "strokeWidth": 5.2, "strokeCap": "butt", "interpolate": "monotone"},
 "encoding": {"x": {"field": "x", "type": "quantitative"}, "y": {"field": "y", "type": "quantitative", "axis": null}}},
{"data": {"name": "wave"}, "transform": [{"filter": "datum.p == 'b'"}], "mark": {"type": "line", "stroke": "white", "strokeWidth": 2.6, "strokeCap": "butt", "interpolate": "monotone"},
 "encoding": {"x": {"field": "x", "type": "quantitative"}, "y": {"field": "y", "type": "quantitative", "axis": null}}},
{"data": {"name": "lab"}, "transform": [{"filter": "datum.p == 'b'"}], "mark": {"type": "text", "align": "left", "baseline": "alphabetic", "font": "Liberation Sans", "fontSize": 21, "color": "#111"},
 "encoding": {"x": {"field": "x", "type": "quantitative"}, "y": {"field": "y", "type": "quantitative", "axis": null}, "text": {"field": "t"}}}
]
},
{
"width": 572, "height": 125,
"layer": [
{"data": {"name": "spec"}, "transform": [{"filter": "datum.p == 'c'"}], "mark": {"type": "line", "stroke": "#262626", "strokeWidth": 1.2},
 "encoding": {"x": {"field": "x", "type": "quantitative", "scale": {"domain": [7, 5.875, 5.06, 3], "range": [0, 196.9, 213.5, 572], "nice": false, "zero": false}, "axis": {"title": null, "values": [7, 6.8, 6.6, 6.4, 6.2, 6, 5, 4.8, 4.6, 4.4, 4.2, 4, 3.8, 3.6, 3.4, 3.2, 3], "labels": false}},
  "y": {"field": "y", "type": "quantitative", "scale": {"domain": [-7, 118], "nice": false, "zero": false}, "axis": null}, "detail": {"field": "s"}}},
{"data": {"name": "brk"}, "mark": {"type": "line", "stroke": "#333", "strokeWidth": 1.1},
 "encoding": {"x": {"field": "x", "type": "quantitative"}, "y": {"field": "y", "type": "quantitative", "axis": null}, "detail": {"field": "c"}, "order": {"field": "i", "type": "quantitative"}}},
{"data": {"name": "axl"}, "transform": [{"filter": "datum.p == 'c'"}], "mark": {"type": "rule", "stroke": "#1a1a1a", "strokeWidth": 2.4},
 "encoding": {"x": {"field": "x", "type": "quantitative"}, "x2": {"field": "x2"}, "y": {"datum": -7, "type": "quantitative", "axis": null}}},
{"data": {"name": "wave"}, "transform": [{"filter": "datum.p == 'c'"}], "mark": {"type": "line", "stroke": "#333", "strokeWidth": 5.2, "strokeCap": "butt", "interpolate": "monotone"},
 "encoding": {"x": {"field": "x", "type": "quantitative"}, "y": {"field": "y", "type": "quantitative", "axis": null}}},
{"data": {"name": "wave"}, "transform": [{"filter": "datum.p == 'c'"}], "mark": {"type": "line", "stroke": "white", "strokeWidth": 2.6, "strokeCap": "butt", "interpolate": "monotone"},
 "encoding": {"x": {"field": "x", "type": "quantitative"}, "y": {"field": "y", "type": "quantitative", "axis": null}}},
{"data": {"name": "lab"}, "transform": [{"filter": "datum.p == 'c'"}], "mark": {"type": "text", "align": "left", "baseline": "alphabetic", "font": "Liberation Sans", "fontSize": 21, "color": "#111"},
 "encoding": {"x": {"field": "x", "type": "quantitative"}, "y": {"field": "y", "type": "quantitative", "axis": null}, "text": {"field": "t"}}},
{"data": {"name": "ticklab"}, "mark": {"type": "text", "align": "center", "baseline": "alphabetic", "font": "Liberation Sans", "fontSize": 20, "color": "#111"},
 "encoding": {"x": {"field": "x", "type": "quantitative"}, "y": {"datum": -25, "type": "quantitative", "axis": null}, "text": {"field": "t"}}},
{"data": {"name": "unit"}, "mark": {"type": "text", "align": "left", "baseline": "alphabetic", "font": "Liberation Sans", "fontSize": 16, "color": "#111"},
 "encoding": {"x": {"field": "x", "type": "quantitative"}, "y": {"field": "y", "type": "quantitative", "axis": null}, "text": {"field": "t"}}}
]
}
]
}
